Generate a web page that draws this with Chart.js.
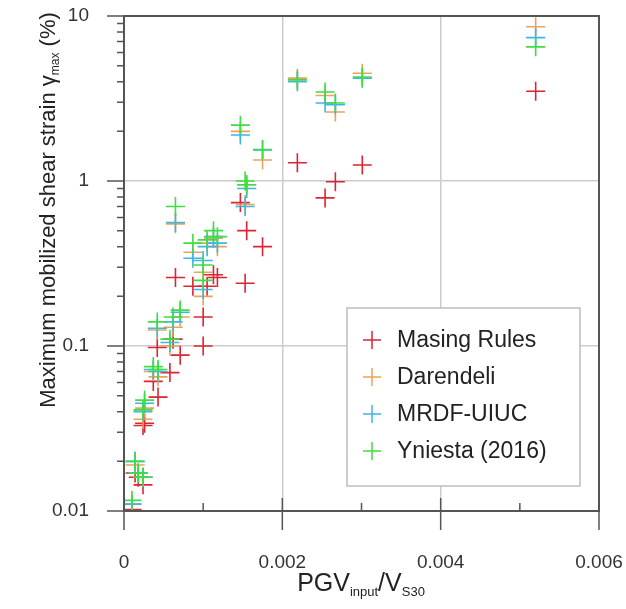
<!DOCTYPE html>
<html lang="en">
<head>
<meta charset="UTF-8">
<title>Maximum mobilized shear strain vs PGV/Vs30</title>
<script src="https://cdn.jsdelivr.net/npm/chart.js"></script>
<style>
    body { margin: 0; background: #ffffff; }
    #wrap { position: relative; width: 626px; height: 609px; }
</style>
</head>
<body>
<div id="wrap"><canvas id="strainChart"></canvas></div>
<script>
// PGV_input / V_S30 for each case (same x for every model)
const pgvRatio = [0.00010, 0.00014, 0.00018, 0.00024, 0.00024, 0.00026, 0.00037, 0.00043,
                  0.00042, 0.00058, 0.00062, 0.00071, 0.00065, 0.00087, 0.00100, 0.00100,
                  0.00105, 0.00113, 0.00118, 0.00147, 0.00153, 0.00155, 0.00175, 0.00219,
                  0.00254, 0.00267, 0.00301, 0.00520];

// max mobilized shear strain (%)
const masingRules = [0.0102, 0.017, 0.016, 0.0144, 0.033, 0.034, 0.061, 0.049,
                     0.098, 0.069, 0.11, 0.088, 0.26, 0.23, 0.15, 0.10,
                     0.23, 0.27, 0.26, 0.74, 0.24, 0.50, 0.40, 1.29,
                     0.79, 0.99, 1.25, 3.5];
const darendeli = [0.011, 0.019, 0.017, 0.016, 0.036, 0.042, 0.070, 0.065,
                   0.125, 0.100, 0.13, 0.15, 0.55, 0.37, 0.28, 0.20,
                   0.42, 0.45, 0.40, 2.0, 0.72, 0.95, 1.34, 4.2,
                   3.3, 2.62, 4.5, 8.6];
const mrdfUiuc = [0.011, 0.020, 0.017, 0.016, 0.040, 0.045, 0.072, 0.070,
                  0.128, 0.105, 0.14, 0.16, 0.56, 0.34, 0.33, 0.22,
                  0.40, 0.46, 0.42, 1.9, 0.70, 0.90, 1.55, 4.0,
                  2.97, 2.9, 4.2, 7.4];
const yniesta2016 = [0.0116, 0.020, 0.017, 0.016, 0.041, 0.047, 0.075, 0.072,
                     0.14, 0.11, 0.15, 0.165, 0.70, 0.42, 0.31, 0.25,
                     0.44, 0.50, 0.46, 2.18, 1.0, 0.95, 1.54, 4.1,
                     3.46, 2.97, 4.27, 6.5];

const seriesNames = ['Masing Rules', 'Darendeli', 'MRDF-UIUC', 'Yniesta (2016)'];
const seriesColors = ['#dc2433', '#eaa35a', '#3db5e8', '#3fde3f'];

const xTickValues = [0, 0.002, 0.004, 0.006];
const xTickLabels = ['0', '0.002', '0.004', '0.006'];
const yTickValues = [0.01, 0.1, 1, 10];
const yTickLabels = ['0.01', '0.1', '1', '10'];

const allSeries = [masingRules, darendeli, mrdfUiuc, yniesta2016];

function toPoints(values) {
    return pgvRatio.map((x, i) => ({ x: x, y: values[i] }));
}

const datasets = allSeries.map((values, i) => ({
    label: seriesNames[i],
    data: toPoints(values),
    pointStyle: 'cross',
    pointRadius: 9.5,
    pointHoverRadius: 9.5,
    borderWidth: 1.6,
    borderColor: seriesColors[i],
    backgroundColor: seriesColors[i],
    showLine: false,
    order: allSeries.length - i
}));

// draw a string with subscript parts, centred on (cx, cy)
function drawRich(ctx, parts, cx, cy) {
    let total = 0;
    parts.forEach(p => {
        ctx.font = p.size + 'px Arial, "Liberation Sans", sans-serif';
        p.w = ctx.measureText(p.t).width;
        total += p.w;
    });
    let x = cx - total / 2;
    ctx.textAlign = 'left';
    ctx.textBaseline = 'alphabetic';
    parts.forEach(p => {
        ctx.font = p.size + 'px Arial, "Liberation Sans", sans-serif';
        ctx.fillText(p.t, x, cy + (p.dy || 0));
        x += p.w;
    });
}

function noPadding(scale) {
    scale.paddingTop = 0;
    scale.paddingBottom = 0;
    scale.paddingLeft = 0;
    scale.paddingRight = 0;
}

const framePlugin = {
    id: 'frame',
    afterDatasetsDraw(chart) {
        const ctx = chart.ctx;
        const a = chart.chartArea;
        const xs = chart.scales.x;
        const ys = chart.scales.y;
        ctx.save();
        ctx.strokeStyle = '#555555';
        ctx.lineWidth = 2;
        ctx.strokeRect(a.left, a.top, a.right - a.left, a.bottom - a.top);

        ctx.lineWidth = 1.5;
        ctx.beginPath();
        // x major and minor ticks
        xTickValues.forEach(v => {
            const px = xs.getPixelForValue(v);
            ctx.moveTo(px, a.bottom - 13);
            ctx.lineTo(px, a.bottom + 19);
        });
        [0.001, 0.003, 0.005].forEach(v => {
            const px = xs.getPixelForValue(v);
            ctx.moveTo(px, a.bottom - 8);
            ctx.lineTo(px, a.bottom);
        });
        // y major and minor ticks
        yTickValues.forEach(v => {
            const py = ys.getPixelForValue(v);
            ctx.moveTo(a.left - 17, py);
            ctx.lineTo(a.left, py);
        });
        for (let d = 0; d < yTickValues.length - 1; d++) {
            for (let m = 2; m <= 9; m++) {
                const py = ys.getPixelForValue(yTickValues[d] * m);
                ctx.moveTo(a.left - 7, py);
                ctx.lineTo(a.left, py);
            }
        }
        ctx.stroke();

        // axis titles
        ctx.fillStyle = '#222222';
        drawRich(ctx, [
            { t: 'PGV', size: 25 },
            { t: 'input', size: 13, dy: 5 },
            { t: '/V', size: 25 },
            { t: 'S30', size: 13, dy: 5 }
        ], 361, 591);

        ctx.save();
        ctx.translate(55, 210);
        ctx.rotate(-Math.PI / 2);
        drawRich(ctx, [
            { t: 'Maximum mobilized shear strain \u03b3', size: 22 },
            { t: 'max', size: 12, dy: 4 },
            { t: ' (%)', size: 22 }
        ], 0, 0);
        ctx.restore();

        // legend box inside the plot
        const bx = 347, by = 308, bw = 233, bh = 178;
        ctx.fillStyle = '#ffffff';
        ctx.fillRect(bx, by, bw, bh);
        ctx.strokeStyle = '#bdbdbd';
        ctx.lineWidth = 1.5;
        ctx.strokeRect(bx, by, bw, bh);
        chart.data.datasets.forEach((ds, i) => {
            const cy = by + 32 + i * 37;
            ctx.strokeStyle = ds.borderColor;
            ctx.lineWidth = 1.5;
            ctx.beginPath();
            ctx.moveTo(372 - 9, cy);
            ctx.lineTo(372 + 9, cy);
            ctx.moveTo(372, cy - 9);
            ctx.lineTo(372, cy + 9);
            ctx.stroke();
            ctx.fillStyle = '#222222';
            ctx.font = '23px Arial, "Liberation Sans", sans-serif';
            ctx.textAlign = 'left';
            ctx.textBaseline = 'middle';
            ctx.fillText(ds.label, 397, cy + 1);
        });
        ctx.restore();
    }
};

const ctx = document.getElementById('strainChart').getContext('2d');
new Chart(ctx, {
    type: 'scatter',
    data: { datasets: datasets },
    options: {
        responsive: true,
        maintainAspectRatio: false,
        animation: false,
        layout: { padding: { top: 16, right: 27, left: 0, bottom: 0 } },
        plugins: {
            legend: { display: false },
            tooltip: { enabled: false }
        },
        scales: {
            x: {
                type: 'linear',
                min: 0,
                max: 0.006,
                afterBuildTicks: scale => { scale.ticks = xTickValues.map(v => ({ value: v })); },
                afterFit: scale => { scale.height = 98; noPadding(scale); },
                ticks: {
                    padding: 40,
                    color: '#333333',
                    maxRotation: 0,
                    font: { family: 'Arial, "Liberation Sans", sans-serif', size: 19 },
                    callback: v => xTickLabels[xTickValues.indexOf(v)]
                },
                grid: {
                    drawTicks: false,
                    lineWidth: 1.5,
                    color: c => (c.tick && c.tick.value > 0 && c.tick.value < 0.006) ? '#cccccc' : 'rgba(0,0,0,0)'
                },
                border: { display: false }
            },
            y: {
                type: 'logarithmic',
                min: 0.01,
                max: 10,
                afterBuildTicks: scale => { scale.ticks = yTickValues.map(v => ({ value: v })); },
                afterFit: scale => { scale.width = 124; noPadding(scale); },
                ticks: {
                    padding: 35,
                    color: '#333333',
                    autoSkip: false,
                    font: { family: 'Arial, "Liberation Sans", sans-serif', size: 19 },
                    callback: v => yTickLabels[yTickValues.indexOf(v)]
                },
                grid: {
                    drawTicks: false,
                    lineWidth: 1.5,
                    color: c => (c.tick && c.tick.value > 0.01 && c.tick.value < 10) ? '#cccccc' : 'rgba(0,0,0,0)'
                },
                border: { display: false }
            }
        }
    },
    plugins: [framePlugin]
});
</script>
</body>
</html>
